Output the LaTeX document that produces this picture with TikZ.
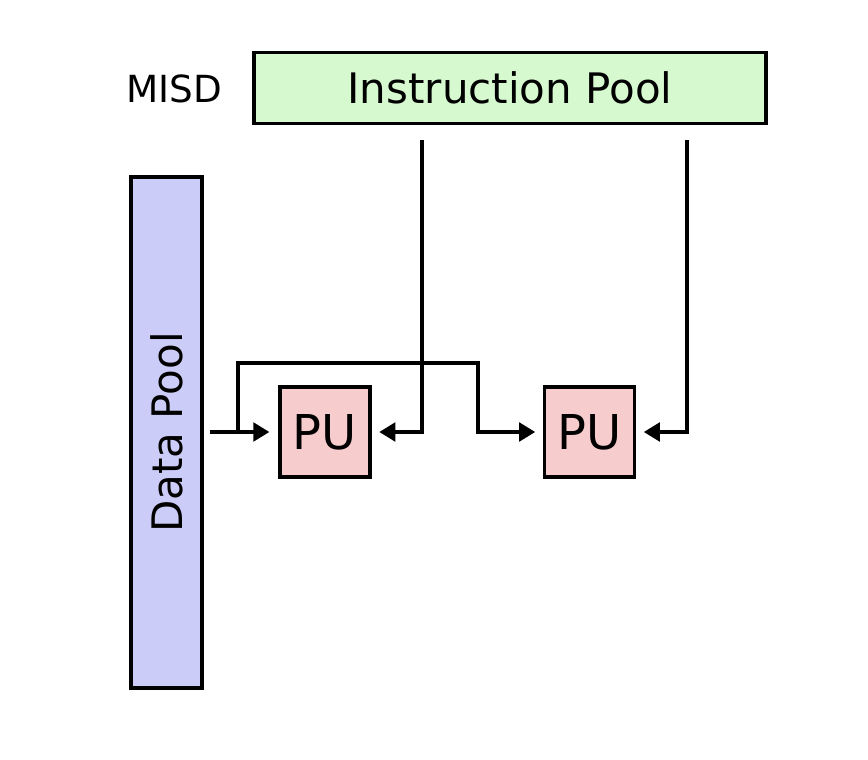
\documentclass[tikz,border=0pt]{standalone}
\usepackage{fontspec}
\setmainfont{DejaVu Sans}
\usetikzlibrary{arrows.meta}
\begin{document}
\begin{tikzpicture}[x=0.75pt,y=-0.75pt,
  box/.style={draw=black,line width=2.4pt,inner sep=0pt,outer sep=0pt},
  conn/.style={line width=2.4pt,-{Triangle[length=12pt,width=14pt]},shorten >=7pt}]
\useasboundingbox (0,0) rectangle (868,760);
\node[box,fill={rgb,255:red,215;green,249;blue,208},minimum width=512*0.75pt,minimum height=71*0.75pt,font=\fontsize{31.5pt}{36pt}\selectfont] (ip) at (510,88) {Instruction Pool};
\node[font=\fontsize{28pt}{34pt}\selectfont] (misd) at (174,89) {MISD};
\node[box,fill={rgb,255:red,204;green,204;blue,249},minimum width=511*0.75pt,minimum height=71*0.75pt,rotate=90,font=\fontsize{31.5pt}{36pt}\selectfont] (dp) at (166.5,432.5) {Data Pool};
\node[box,fill={rgb,255:red,247;green,204;blue,204},minimum size=90*0.75pt,font=\fontsize{36pt}{42pt}\selectfont] (pu1) at (325,432) {PU};
\node[box,fill={rgb,255:red,247;green,204;blue,204},minimum size=90*0.75pt,font=\fontsize{36pt}{42pt}\selectfont] (pu2) at (589.5,432) {PU};
\coordinate (d0) at (210,432);
\coordinate (b0) at (238,432);
\coordinate (b1) at (238,363);
\coordinate (b2) at (478,363);
\coordinate (b3) at (478,432);
\coordinate (i1) at (422,140);
\coordinate (i1b) at (422,432);
\coordinate (i2) at (687,140);
\coordinate (i2b) at (687,432);
\draw[conn,shorten >=8pt] (d0) -- (pu1.west);
\draw[conn,shorten >=7pt] (b0) -- (b1) -- (b2) -- (b3) -- (pu2.west);
\draw[conn] (i1) -- (i1b) -- (pu1.east);
\draw[conn] (i2) -- (i2b) -- (pu2.east);
\end{tikzpicture}
\end{document}
